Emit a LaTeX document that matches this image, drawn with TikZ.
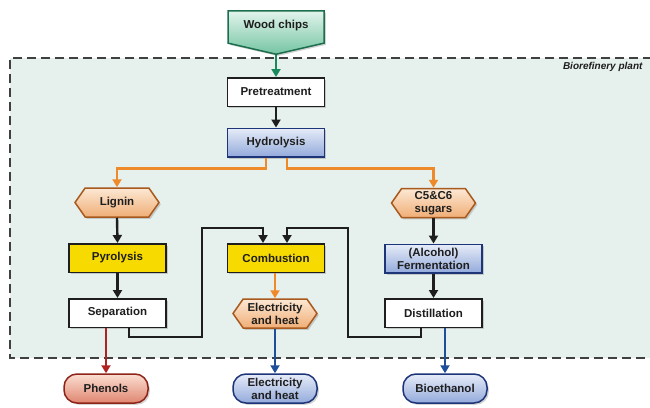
\documentclass[tikz,border=0pt]{standalone}
\usepackage{fontspec}
\setmainfont{Liberation Sans}
\usetikzlibrary{arrows.meta,shapes.symbols,shadows}
\definecolor{plantbg}{HTML}{E6F0ED}
\definecolor{ink}{HTML}{1E1E1E}
\definecolor{grn}{HTML}{1A8A5C}
\definecolor{org}{HTML}{EE8A2A}
\definecolor{redl}{HTML}{B02222}
\definecolor{blu}{HTML}{1F4E9A}
\definecolor{navy}{HTML}{1E3478}
\definecolor{bluT}{HTML}{E6ECF8}
\definecolor{bluB}{HTML}{93AADB}
\definecolor{orgT}{HTML}{FCE8D4}
\definecolor{orgB}{HTML}{F0AE76}
\definecolor{orgD}{HTML}{A85A1E}
\definecolor{redT}{HTML}{FADED2}
\definecolor{redB}{HTML}{E08670}
\definecolor{redD}{HTML}{8E2418}
\definecolor{grnT}{HTML}{E2F4EC}
\definecolor{grnB}{HTML}{74C4A2}
\definecolor{grnD}{HTML}{1C6E4E}
\definecolor{yel}{HTML}{F7DA00}
\tikzset{
  x=1pt, y=-1pt,
  base/.style={font=\bfseries\fontsize{11.5}{13.2}\selectfont, text=ink, align=center, inner sep=1pt,
    drop shadow={opacity=0.35, shadow xshift=1.8pt, shadow yshift=-1.8pt}},
  boxw/.style={base, rectangle, draw=ink, line width=1.5pt, fill=white, minimum width=97pt, minimum height=28.5pt},
  boxb/.style={base, rectangle, draw=navy, line width=1.5pt, top color=bluT, bottom color=bluB, minimum width=97pt, minimum height=28.5pt},
  boxy/.style={base, rectangle, draw=ink, line width=1.5pt, fill=yel, minimum width=97pt, minimum height=28.5pt},
  hexo/.style={base, signal, signal to=east and west, signal pointer angle=110, draw=orgD, line width=1.5pt, top color=orgT, bottom color=orgB, minimum width=84pt, minimum height=29pt},
  capr/.style={base, rectangle, rounded corners=13pt, draw=redD, line width=1.5pt, top color=redT, bottom color=redB, minimum width=84pt, minimum height=29pt},
  capb/.style={base, rectangle, rounded corners=13pt, draw=navy, line width=1.5pt, top color=bluT, bottom color=bluB, minimum width=84pt, minimum height=29pt},
  woodbox/.style={base, signal, signal to=south, signal pointer angle=154, draw=grnD, line width=1.5pt, top color=grnT, bottom color=grnB, minimum width=96pt, minimum height=40pt},
  conn/.style={line width=2.4pt, -{Triangle[length=8pt,width=9pt]}},
}
\begin{document}
\begin{tikzpicture}
\useasboundingbox (0,0) rectangle (650,407);
% plant area
\fill[plantbg] (10,58) rectangle (650,358);
\draw[ink!85, line width=1.5pt, dash pattern=on 9pt off 5pt] (652,58) -- (10,58) -- (10,358) -- (652,358);
\node[font=\bfseries\itshape\fontsize{10}{11}\selectfont, text=ink, anchor=east] (plantlbl) at (646,67) {Biorefinery plant};

% nodes
\node[woodbox] (wood) at (276,27) {\raisebox{5pt}{Wood chips}};
\node[boxw] (pret) at (276,92) {Pretreatment};
\node[boxb] (hyd) at (276,142.5) {Hydrolysis};
\node[hexo] (lig) at (117,202.5) {Lignin};
\node[hexo] (sug) at (433.5,203) {C5\&C6\\sugars};
\node[boxy] (pyr) at (117.5,258) {Pyrolysis};
\node[boxy] (comb) at (276,258) {Combustion};
\node[boxb] (ferm) at (433.5,258.5) {(Alcohol)\\Fermentation};
\node[boxw] (sep) at (117.5,313) {Separation};
\node[hexo] (eh) at (275,313.5) {Electricity\\and heat};
\node[boxw] (dist) at (433.5,313) {Distillation};
\node[capr] (phen) at (106,388.5) {Phenols};
\node[capb] (ehout) at (275,388.5) {Electricity\\and heat};
\node[capb] (bio) at (445,388.5) {Bioethanol};

\coordinate (bendL) at (202,228);
\coordinate (bendR) at (348,228);

% connectors
\draw[conn, grn] (wood.south) -- (pret.north);
\draw[conn, ink] (pret.south) -- (hyd.north);
\draw[conn, org] ([xshift=-10pt]hyd.south) -- ++(0,11) -| (lig.north);
\draw[conn, org] ([xshift=11pt]hyd.south) -- ++(0,11) -| (sug.north);
\draw[conn, ink] (lig.south) -- (pyr.north);
\draw[conn, ink] (pyr.south) -- (sep.north);
\draw[conn, ink] (sug.south) -- (ferm.north);
\draw[conn, ink] (ferm.south) -- (dist.north);
\draw[conn, org] (comb.south -| eh.north) -- (eh.north);
\draw[conn, blu] (eh.south) -- (ehout.north);
\draw[conn, redl] (sep.south -| phen.north) -- (phen.north);
\draw[conn, blu] (dist.south -| bio.north) -- (bio.north);
\draw[conn, ink, line width=2pt] ([xshift=11.5pt]sep.south) -- ++(0,9) -| (bendL) -| ([xshift=-13pt]comb.north);
\draw[conn, ink, line width=2pt] ([xshift=-12.5pt]dist.south) -- ++(0,9) -| (bendR) -| ([xshift=11pt]comb.north);
\end{tikzpicture}
\end{document}
